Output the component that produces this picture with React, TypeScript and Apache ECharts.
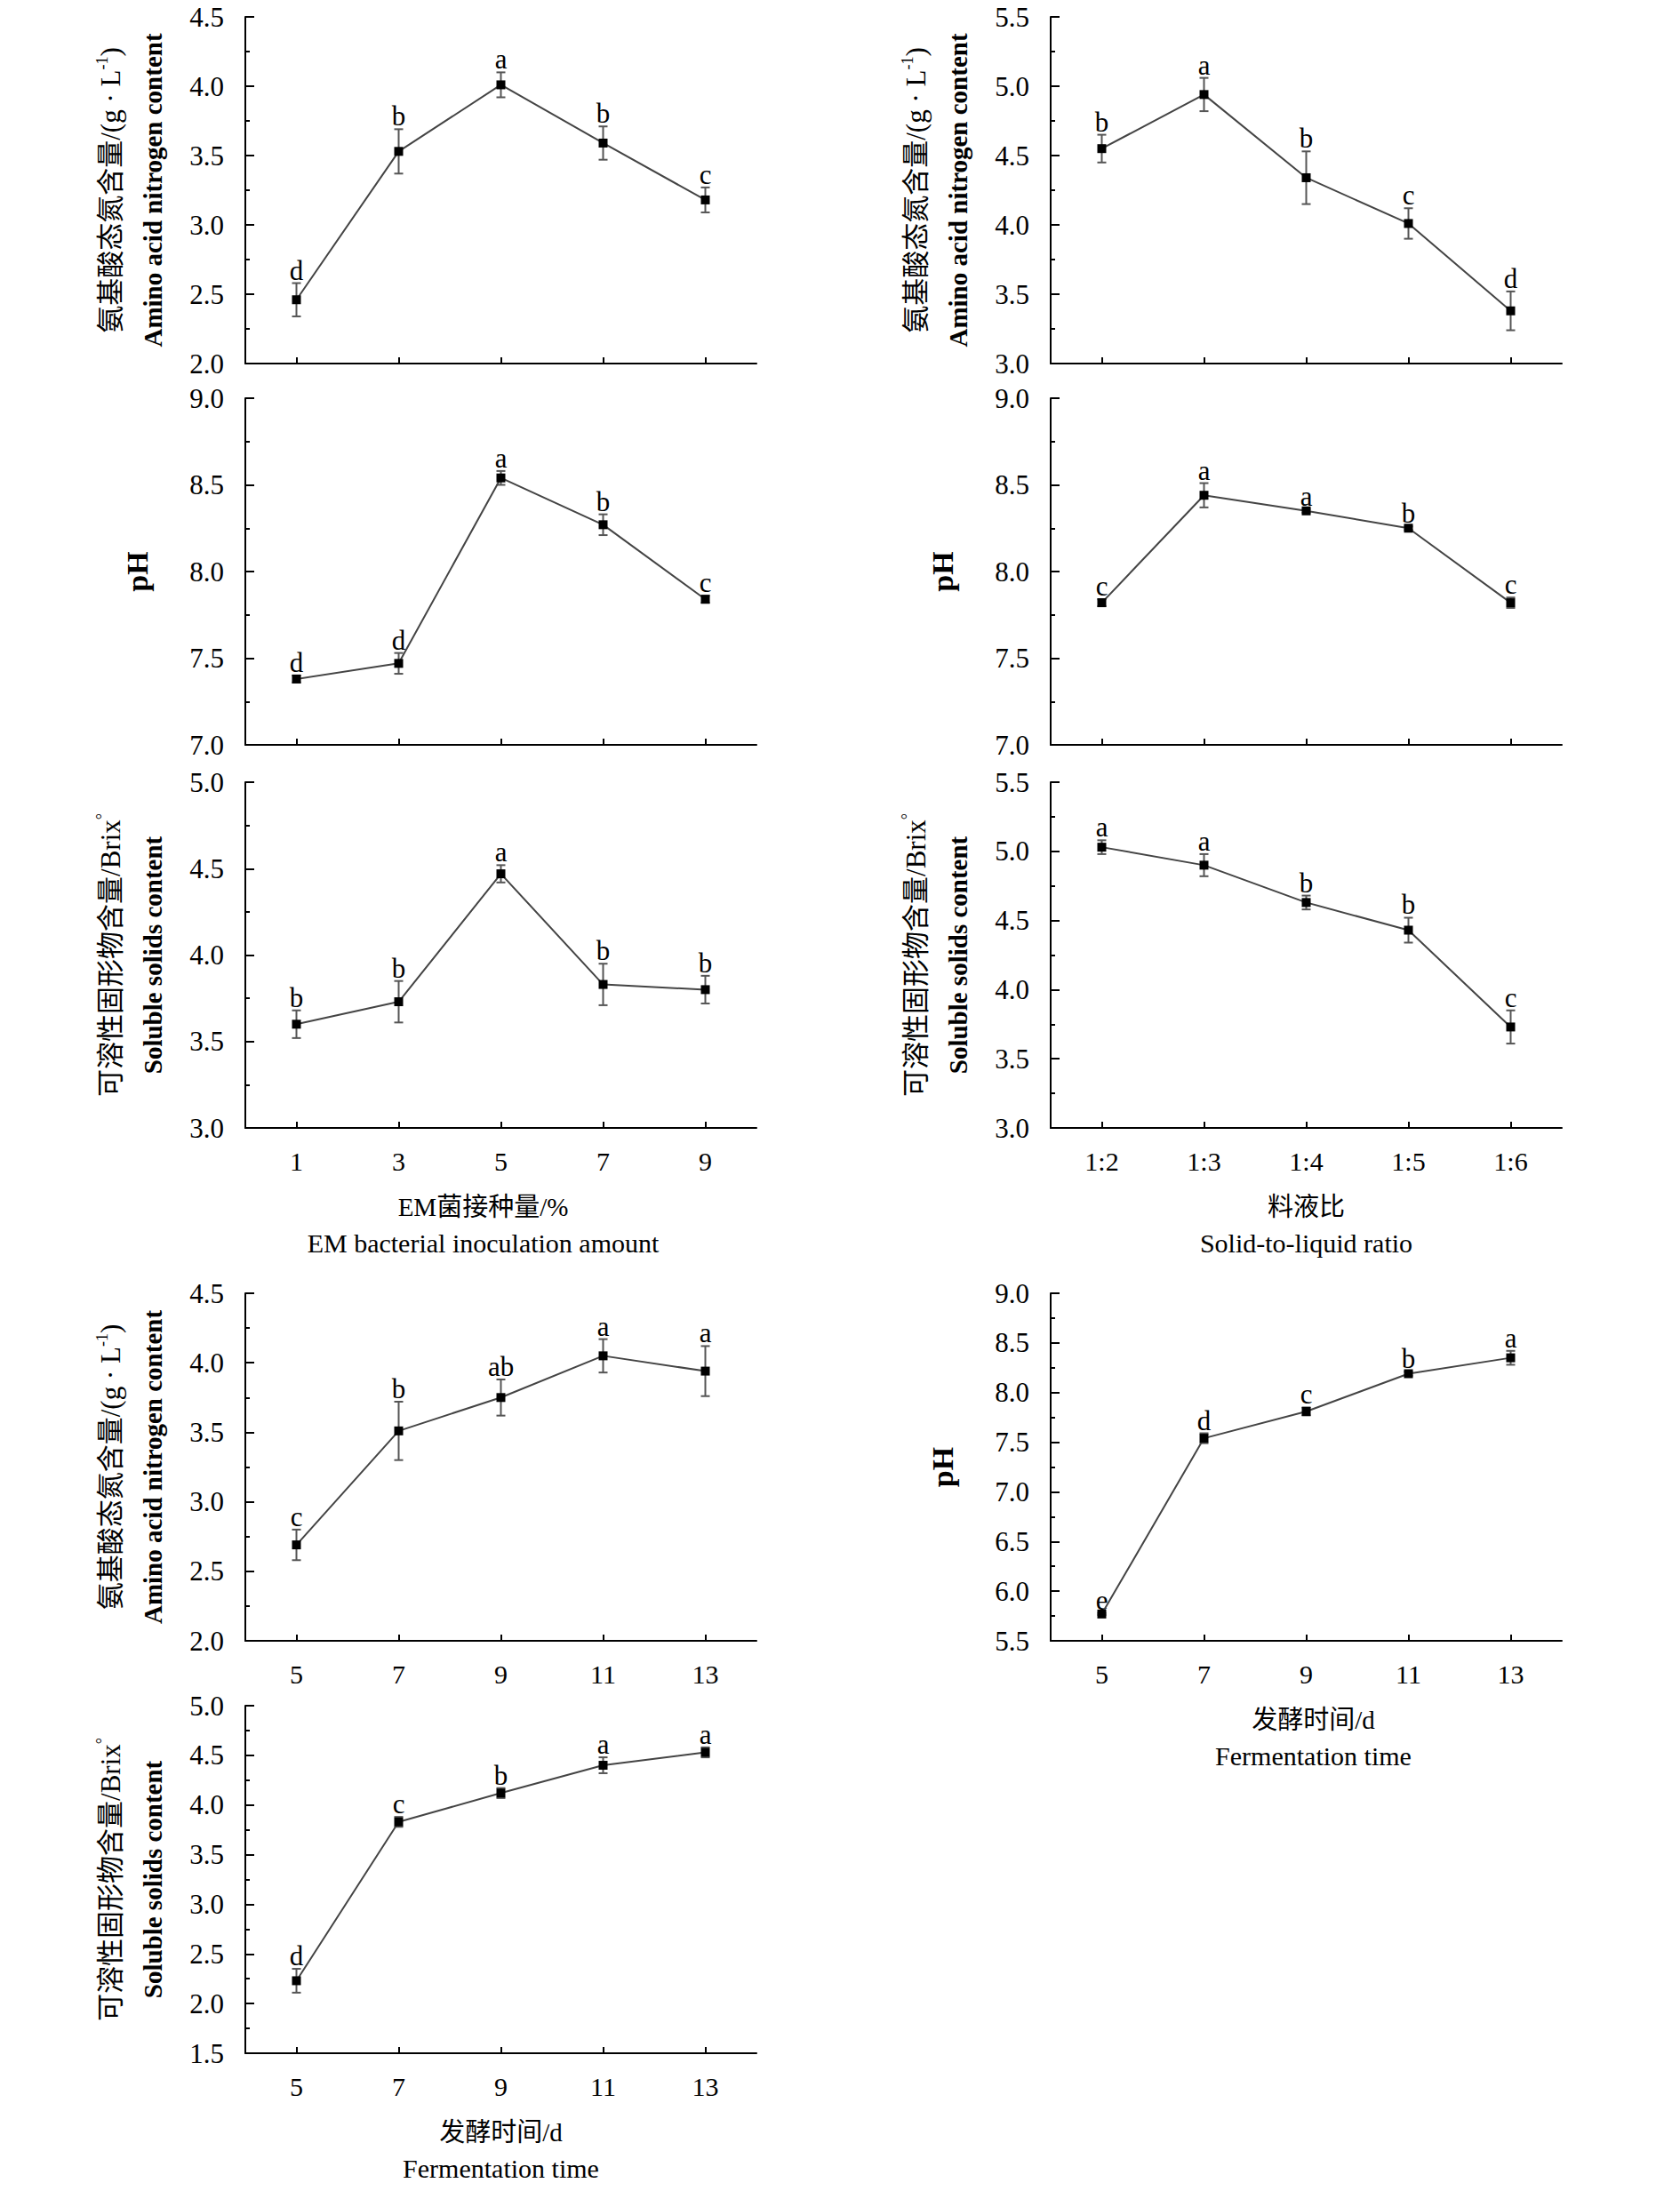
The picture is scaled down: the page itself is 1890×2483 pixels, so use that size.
import React, { useEffect, useRef } from "react";
import * as echarts from "echarts";

// ---------- categories ----------
const emCategories = ["1", "3", "5", "7", "9"];
const ratioCategories = ["1:2", "1:3", "1:4", "1:5", "1:6"];
const timeCategories = ["5", "7", "9", "11", "13"];

// ---------- EM inoculation amount ----------
const emAmino = [2.46, 3.53, 4.01, 3.59, 3.18];
const emAminoErr = [0.12, 0.16, 0.09, 0.12, 0.09];
const emAminoSig = ["d", "b", "a", "b", "c"];

const emPH = [7.38, 7.47, 8.54, 8.27, 7.84];
const emPHErr = [0.02, 0.06, 0.04, 0.06, 0.02];
const emPHSig = ["d", "d", "a", "b", "c"];

const emSolids = [3.6, 3.73, 4.47, 3.83, 3.8];
const emSolidsErr = [0.08, 0.12, 0.05, 0.12, 0.08];
const emSolidsSig = ["b", "b", "a", "b", "b"];

// ---------- solid-to-liquid ratio ----------
const ratioAmino = [4.55, 4.94, 4.34, 4.01, 3.38];
const ratioAminoErr = [0.1, 0.12, 0.19, 0.11, 0.14];
const ratioAminoSig = ["b", "a", "b", "c", "d"];

const ratioPH = [7.82, 8.44, 8.35, 8.25, 7.82];
const ratioPHErr = [0.02, 0.07, 0.01, 0.01, 0.03];
const ratioPHSig = ["c", "a", "a", "b", "c"];

const ratioSolids = [5.03, 4.9, 4.63, 4.43, 3.73];
const ratioSolidsErr = [0.05, 0.08, 0.05, 0.09, 0.12];
const ratioSolidsSig = ["a", "a", "b", "b", "c"];

// ---------- fermentation time ----------
const timeAmino = [2.69, 3.51, 3.75, 4.05, 3.94];
const timeAminoErr = [0.11, 0.21, 0.13, 0.12, 0.18];
const timeAminoSig = ["c", "b", "ab", "a", "a"];

const timePH = [5.77, 7.54, 7.81, 8.19, 8.35];
const timePHErr = [0.01, 0.05, 0.04, 0.02, 0.07];
const timePHSig = ["e", "d", "c", "b", "a"];

const timeSolids = [2.23, 3.83, 4.12, 4.4, 4.53];
const timeSolidsErr = [0.12, 0.05, 0.05, 0.08, 0.05];
const timeSolidsSig = ["d", "c", "b", "a", "a"];

// ---------- axis titles ----------
const aminoTitleCn = "{cn|氨基酸态氮含量/(g · L}{sup|-1}{cn|)}";
const aminoTitleEn = "Amino acid nitrogen content";
const solidsTitleCn = "{cn|可溶性固形物含量/Brix}{sup|°}";
const solidsTitleEn = "Soluble solids content";
const phTitle = "pH";
const emTitle = ["EM菌接种量/%", "EM bacterial inoculation amount"];
const ratioTitle = ["料液比", "Solid-to-liquid ratio"];
const timeTitle = ["发酵时间/d", "Fermentation time"];

const SERIF = '"Liberation Serif", "Times New Roman", serif';
const MIX = '"Liberation Serif", "Noto Sans CJK SC", serif';

const COL_L = 276;
const COL_R = 1182;
const PW = 575;
const rows = [
  { top: 19, h: 390 },
  { top: 448, h: 390 },
  { top: 880, h: 389 },
  { top: 1455, h: 391 },
  { top: 1919, h: 391 },
];

type Panel = {
  left: number;
  row: number;
  cats: string[];
  showX: boolean;
  min: number;
  max: number;
  vals: number[];
  errs: number[];
  sig: string[];
  kind: "amino" | "ph" | "solids";
  xTitle?: string[];
  dx?: number;
};

const panels: Panel[] = [
  { left: COL_L, row: 0, cats: emCategories, showX: false, min: 2, max: 4.5, vals: emAmino, errs: emAminoErr, sig: emAminoSig, kind: "amino" },
  { left: COL_R, row: 0, cats: ratioCategories, showX: false, min: 3, max: 5.5, vals: ratioAmino, errs: ratioAminoErr, sig: ratioAminoSig, kind: "amino" },
  { left: COL_L, row: 1, cats: emCategories, showX: false, min: 7, max: 9, vals: emPH, errs: emPHErr, sig: emPHSig, kind: "ph" },
  { left: COL_R, row: 1, cats: ratioCategories, showX: false, min: 7, max: 9, vals: ratioPH, errs: ratioPHErr, sig: ratioPHSig, kind: "ph" },
  { left: COL_L, row: 2, cats: emCategories, showX: true, min: 3, max: 5, vals: emSolids, errs: emSolidsErr, sig: emSolidsSig, kind: "solids", xTitle: emTitle, dx: -20 },
  { left: COL_R, row: 2, cats: ratioCategories, showX: true, min: 3, max: 5.5, vals: ratioSolids, errs: ratioSolidsErr, sig: ratioSolidsSig, kind: "solids", xTitle: ratioTitle, dx: 0 },
  { left: COL_L, row: 3, cats: timeCategories, showX: true, min: 2, max: 4.5, vals: timeAmino, errs: timeAminoErr, sig: timeAminoSig, kind: "amino" },
  { left: COL_R, row: 3, cats: timeCategories, showX: true, min: 5.5, max: 9, vals: timePH, errs: timePHErr, sig: timePHSig, kind: "ph", xTitle: timeTitle, dx: 8 },
  { left: COL_L, row: 4, cats: timeCategories, showX: true, min: 1.5, max: 5, vals: timeSolids, errs: timeSolidsErr, sig: timeSolidsSig, kind: "solids", xTitle: timeTitle, dx: 0 },
];

function buildOption() {
  const grid: any[] = [];
  const xAxis: any[] = [];
  const yAxis: any[] = [];
  const series: any[] = [];
  const graphic: any[] = [];

  panels.forEach((p, i) => {
    const r = rows[p.row];
    grid.push({ left: p.left, top: r.top, width: PW, height: r.h });
    xAxis.push({
      type: "category",
      gridIndex: i,
      data: p.cats,
      boundaryGap: true,
      axisLine: { show: true, lineStyle: { color: "#000", width: 2 } },
      axisTick: { show: true, inside: true, alignWithLabel: true, length: 7, lineStyle: { color: "#000", width: 2 } },
      axisLabel: { show: p.showX, margin: 22, fontSize: 30, fontFamily: SERIF, color: "#000" },
      splitLine: { show: false },
    });
    yAxis.push({
      type: "value",
      gridIndex: i,
      min: p.min,
      max: p.max,
      interval: 0.5,
      axisLine: { show: true, lineStyle: { color: "#000", width: 2 } },
      axisTick: { show: true, inside: true, length: 10, lineStyle: { color: "#000", width: 2 } },
      minorTick: { show: true, splitNumber: 2, length: 5, lineStyle: { color: "#000", width: 2 } },
      axisLabel: {
        margin: 24,
        fontSize: 31,
        fontFamily: SERIF,
        color: "#000",
        formatter: (v: number) => v.toFixed(1),
      },
      splitLine: { show: false },
      minorSplitLine: { show: false },
    });

    const sig = p.sig;
    series.push({
      type: "custom",
      xAxisIndex: i,
      yAxisIndex: i,
      z: 2,
      data: p.vals.map((v, j) => [j, v, p.errs[j]]),
      encode: { x: 0, y: 1 },
      renderItem: (params: any, api: any) => {
        const x = api.value(0);
        const v = api.value(1);
        const e = api.value(2);
        const top = api.coord([x, v + e]);
        const bot = api.coord([x, v - e]);
        const cap = 5;
        const ls = { stroke: "#555", lineWidth: 2 };
        return {
          type: "group",
          children: [
            { type: "line", shape: { x1: top[0], y1: top[1], x2: bot[0], y2: bot[1] }, style: ls },
            { type: "line", shape: { x1: top[0] - cap, y1: top[1], x2: top[0] + cap, y2: top[1] }, style: ls },
            { type: "line", shape: { x1: bot[0] - cap, y1: bot[1], x2: bot[0] + cap, y2: bot[1] }, style: ls },
            {
              type: "text",
              x: top[0],
              y: top[1] + 1,
              style: {
                text: sig[params.dataIndex],
                fill: "#000",
                font: '31px "Liberation Serif", serif',
                align: "center",
                verticalAlign: "bottom",
              },
            },
          ],
        };
      },
    });
    series.push({
      type: "line",
      xAxisIndex: i,
      yAxisIndex: i,
      z: 3,
      data: p.vals,
      symbol: "rect",
      symbolSize: 10,
      itemStyle: { color: "#000" },
      lineStyle: { color: "#444", width: 2 },
    });

    // y-axis titles
    const cy = r.top + r.h / 2;
    if (p.kind === "ph") {
      graphic.push({
        type: "text",
        x: p.left - 122,
        y: cy,
        rotation: Math.PI / 2,
        style: { text: phTitle, fill: "#000", font: 'bold 34px "Liberation Serif", serif', align: "center", verticalAlign: "middle" },
      });
    } else {
      const cn = p.kind === "amino" ? aminoTitleCn : solidsTitleCn;
      const en = p.kind === "amino" ? aminoTitleEn : solidsTitleEn;
      graphic.push({
        type: "text",
        x: p.left - 152,
        y: cy,
        rotation: Math.PI / 2,
        style: {
          text: cn,
          fill: "#000",
          align: "center",
          verticalAlign: "middle",
          fontSize: 31,
          fontFamily: MIX,
          rich: {
            cn: { fontSize: 31, fontFamily: MIX, fill: "#000", lineHeight: 36 },
            sup: { fontSize: 18, fontFamily: SERIF, fill: "#000", verticalAlign: "top", lineHeight: 36 },
          },
        },
      });
      graphic.push({
        type: "text",
        x: p.left - 104,
        y: cy,
        rotation: Math.PI / 2,
        style: { text: en, fill: "#000", font: 'bold 29px "Liberation Serif", serif', align: "center", verticalAlign: "middle" },
      });
    }

    // x-axis titles
    if (p.xTitle) {
      const cx = p.left + PW / 2 + (p.dx || 0);
      const ay = r.top + r.h;
      graphic.push({
        type: "text",
        x: cx,
        y: ay + 89,
        style: { text: p.xTitle[0], fill: "#000", font: "29px " + MIX, align: "center", verticalAlign: "middle" },
      });
      graphic.push({
        type: "text",
        x: cx,
        y: ay + 129,
        style: { text: p.xTitle[1], fill: "#000", font: "30px " + SERIF, align: "center", verticalAlign: "middle" },
      });
    }
  });

  return {
    animation: false,
    backgroundColor: "#fff",
    grid,
    xAxis,
    yAxis,
    series,
    graphic,
  };
}

export default function App() {
  const ref = useRef<HTMLDivElement>(null);
  useEffect(() => {
    if (!ref.current) return;
    const chart = echarts.init(ref.current, null, { renderer: "svg" });
    chart.setOption(buildOption() as any);
    return () => chart.dispose();
  }, []);
  return (
    <div
      ref={ref}
      style={{ position: "absolute", left: 0, top: 0, width: 1890, height: 2483, background: "#fff" }}
    />
  );
}
